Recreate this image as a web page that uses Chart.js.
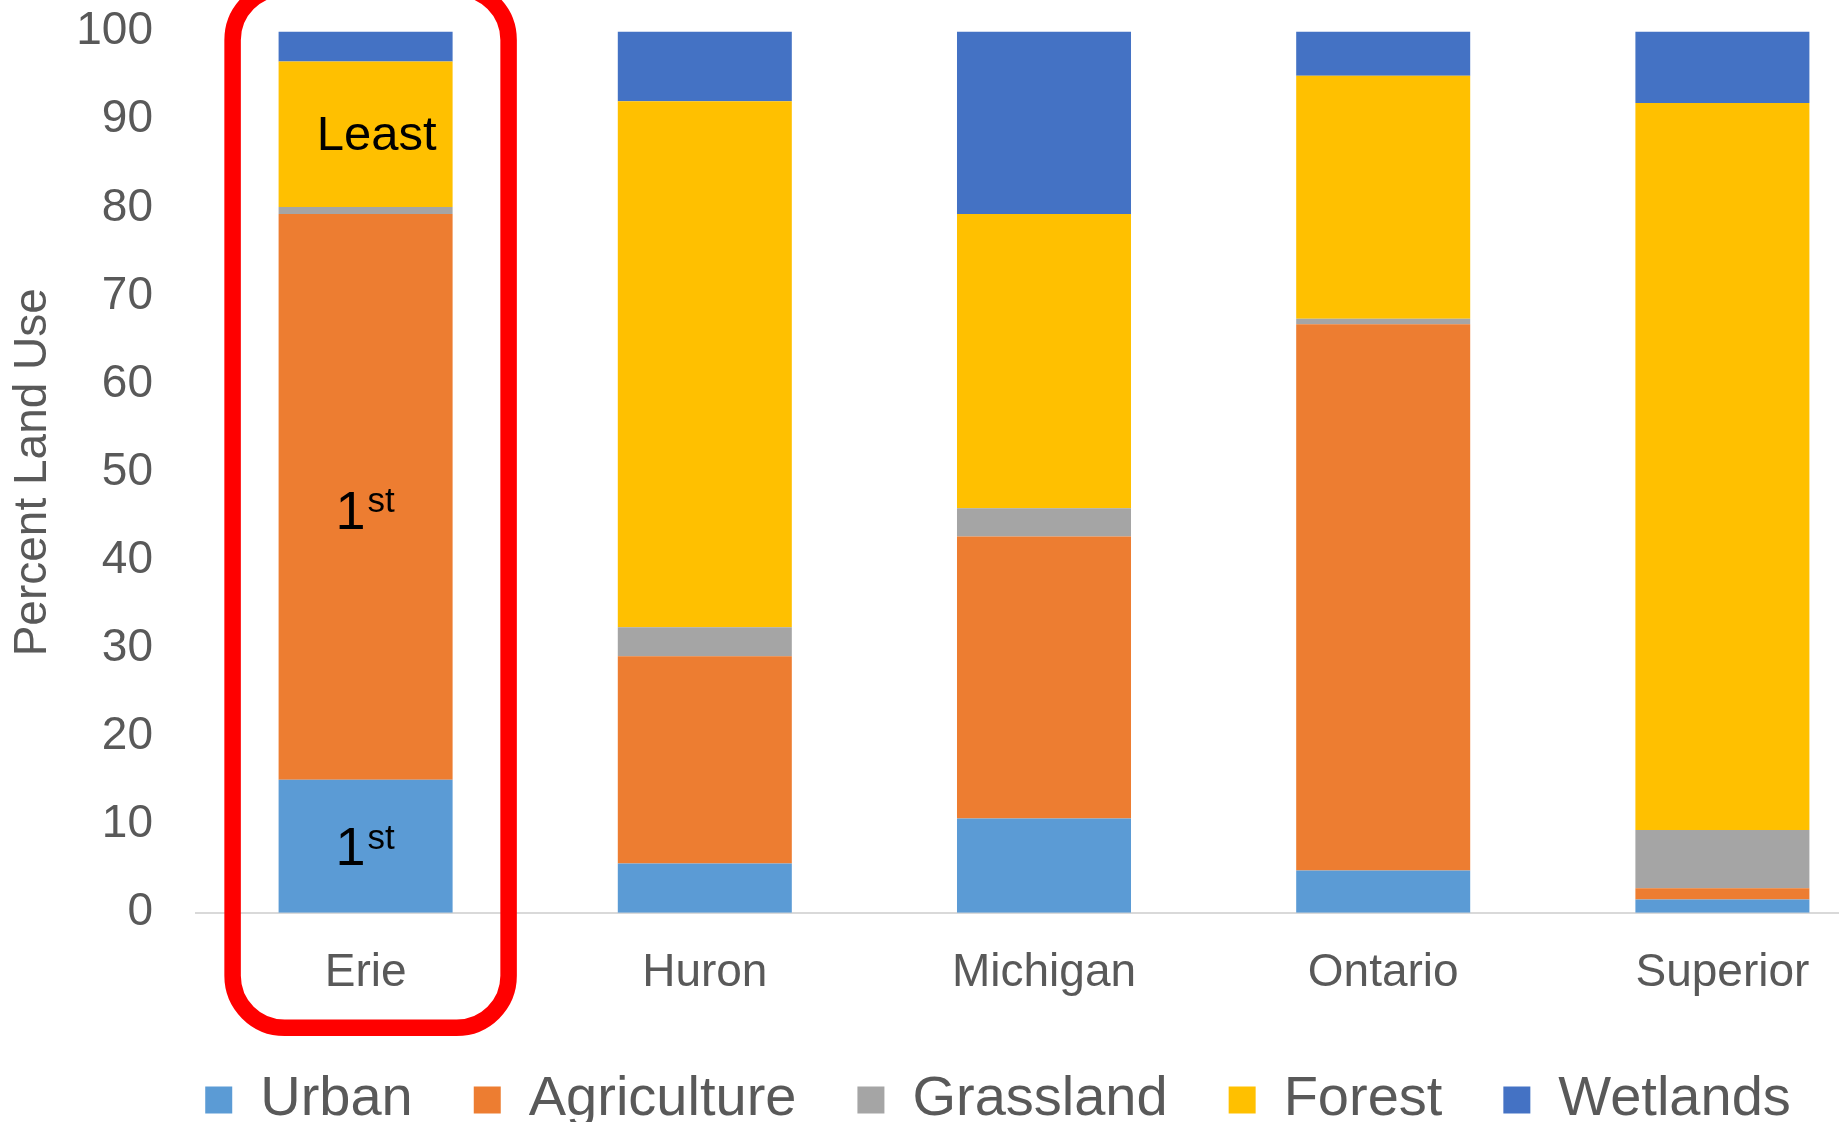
<!DOCTYPE html>
<html>
<head>
<meta charset="utf-8">
<script src="https://cdn.jsdelivr.net/npm/chart.js@4.4.0/dist/chart.umd.min.js"></script>
<style>
  html, body { margin: 0; padding: 0; background: #fff; overflow: hidden; }
  #wrap { position: relative; width: 1839px; height: 1122px; overflow: hidden; }
  #chart { position: absolute; left: 0; top: 0; }
</style>
</head>
<body>
<div id="wrap"><canvas id="chart" width="1900" height="1161"></canvas></div>
<script>
'use strict';

// ── Data ───────────────────────────────────────────────
const lakes = ['Erie', 'Huron', 'Michigan', 'Ontario', 'Superior'];
const urban = [15.1, 5.6, 10.7, 4.8, 1.5];
const agriculture = [64.2, 23.5, 32.0, 62.0, 1.3];
const grassland = [0.8, 3.3, 3.2, 0.6, 6.6];
const forest = [16.5, 59.7, 33.4, 27.6, 82.5];
const wetlands = [3.4, 7.9, 20.7, 5.0, 8.1];
const yTicks = [0, 10, 20, 30, 40, 50, 60, 70, 80, 90, 100];

// notes written inside the Erie bar (value = where on the y axis)
const notes = [
    { lake: 'Erie', value: 88.1, text: 'Least', sup: '' },
    { lake: 'Erie', value: 45.3, text: '1', sup: 'st' },
    { lake: 'Erie', value: 7.1, text: '1', sup: 'st' }
];
const highlighted = 'Erie';

const FONT = '"Liberation Sans", Arial, sans-serif';
const GREY_TEXT = '#595959';

// ── Plugins ───────────────────────────────────────────
// the legend in the original sits a little right of centre and higher
const moveLegend = {
    id: 'moveLegend',
    afterLayout(chart) {
        const lg = chart.legend;
        if (!lg) return;
        lg.left += 52;
        lg.right += 52;
        lg.top -= 23;
        lg.bottom -= 23;
    }
};

const notesPlugin = {
    id: 'notesPlugin',
    afterDatasetsDraw(chart) {
        const { ctx, scales: { x, y } } = chart;
        ctx.save();
        ctx.fillStyle = '#000';
        ctx.textBaseline = 'middle';
        notes.forEach(n => {
            const cx = x.getPixelForValue(lakes.indexOf(n.lake));
            const cy = y.getPixelForValue(n.value);
            if (!n.sup) {
                ctx.font = `49px ${FONT}`;
                ctx.textAlign = 'center';
                ctx.fillText(n.text, cx + 11, cy);
            } else {
                ctx.font = `54px ${FONT}`;
                ctx.textAlign = 'center';
                ctx.fillText(n.text, cx - 15, cy);
                ctx.font = `35px ${FONT}`;
                ctx.textAlign = 'left';
                ctx.fillText(n.sup, cx + 2, cy - 11);
            }
        });
        ctx.restore();
    },
    afterDraw(chart) {
        // red rounded frame round the highlighted lake
        const { ctx, scales: { x, y } } = chart;
        const cx = x.getPixelForValue(lakes.indexOf(highlighted));
        const base = y.getPixelForValue(0);
        const left = cx - 133, right = cx + 143;
        const top = -12, bottom = base + 115;
        ctx.save();
        ctx.strokeStyle = '#FF0000';
        ctx.lineWidth = 16.5;
        ctx.beginPath();
        ctx.roundRect(left, top, right - left, bottom - top, 52);
        ctx.stroke();
        ctx.restore();
    }
};

// ── Chart ─────────────────────────────────────────────
const mk = (label, data, color) => ({
    label, data,
    backgroundColor: color,
    borderWidth: 0,
    categoryPercentage: 1,
    barPercentage: 0.513
});

new Chart(document.getElementById('chart').getContext('2d'), {
    type: 'bar',
    data: {
        labels: lakes,
        datasets: [
            mk('Urban', urban, '#5B9BD5'),
            mk('Agriculture', agriculture, '#ED7D31'),
            mk('Grassland', grassland, '#A5A5A5'),
            mk('Forest', forest, '#FFC000'),
            mk('Wetlands', wetlands, '#4472C4')
        ]
    },
    options: {
        responsive: false,
        animation: false,
        layout: { padding: { top: 0, right: 8, left: 0, bottom: 0 } },
        plugins: {
            tooltip: { enabled: false },
            legend: {
                position: 'bottom',
                labels: {
                    boxWidth: 27,
                    boxHeight: 27,
                    padding: 61,
                    color: GREY_TEXT,
                    font: { family: FONT, size: 56 }
                }
            }
        },
        scales: {
            x: {
                stacked: true,
                grid: { display: false, drawTicks: false },
                border: { display: true, color: '#D9D9D9', width: 2 },
                ticks: { color: GREY_TEXT, padding: 33, font: { family: FONT, size: 46 } }
            },
            y: {
                stacked: true,
                min: 0,
                max: 100,
                afterFit(scale) { scale.width = 196; },
                afterBuildTicks(scale) { scale.ticks = yTicks.map(v => ({ value: v })); },
                // tick length gives the gap to the bars; the marks themselves are hidden
                grid: { display: false, drawTicks: true, tickLength: 39 },
                border: { display: false },
                ticks: { color: GREY_TEXT, padding: 4, font: { family: FONT, size: 46 } },
                title: {
                    display: true,
                    text: 'Percent Land Use',
                    color: GREY_TEXT,
                    padding: { top: 6, bottom: 0 },
                    font: { family: FONT, size: 46 }
                }
            }
        }
    },
    plugins: [moveLegend, notesPlugin]
});
</script>
</body>
</html>
